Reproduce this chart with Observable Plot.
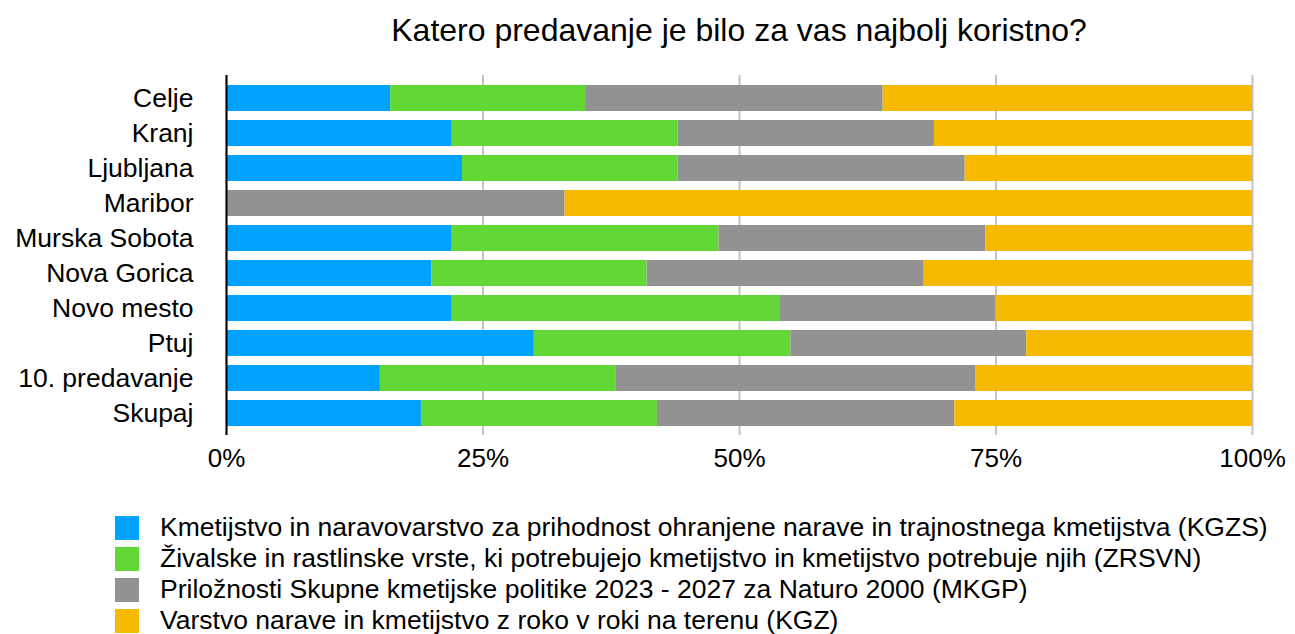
<!DOCTYPE html>
<html>
<head>
<meta charset="utf-8">
<script src="https://cdn.jsdelivr.net/npm/d3@7"></script>
<script src="https://cdn.jsdelivr.net/npm/@observablehq/plot@0.6"></script>
<style>
  body { margin: 0; background: #fff; font-family: "Liberation Sans", Arial, Helvetica, sans-serif; color: #000; }
  #title { height: 60px; line-height: 60px; font-size: 32px; text-align: center; padding-left: 226px; padding-right: 43px; }
  #legend { margin-top: 32px; margin-left: 115px; font-size: 26.5px; }
  .row { display: flex; align-items: center; height: 31px; white-space: nowrap; }
  .sw { width: 24px; height: 24px; margin-right: 21px; flex: none; }
</style>
</head>
<body>
<div id="title">Katero predavanje je bilo za vas najbolj koristno?</div>
<div id="chart"></div>
<div id="legend"></div>
<script>
const cities = ["Celje", "Kranj", "Ljubljana", "Maribor", "Murska Sobota", "Nova Gorica", "Novo mesto", "Ptuj", "10. predavanje", "Skupaj"];
const seriesNames = [
  "Kmetijstvo in naravovarstvo za prihodnost ohranjene narave in trajnostnega kmetijstva (KGZS)",
  "Živalske in rastlinske vrste, ki potrebujejo kmetijstvo in kmetijstvo potrebuje njih (ZRSVN)",
  "Priložnosti Skupne kmetijske politike 2023 - 2027 za Naturo 2000 (MKGP)",
  "Varstvo narave in kmetijstvo z roko v roki na terenu (KGZ)"
];
const colors = ["#00a2ff", "#61d836", "#929292", "#f8ba00"];
const kgzs  = [16, 22, 23, 0, 22, 20, 22, 30, 15, 19];
const zrsvn = [19, 22, 21, 0, 26, 21, 32, 25, 23, 23];
const mkgp  = [29, 25, 28, 33, 26, 27, 21, 23, 35, 29];
const kgz   = [36, 31, 28, 67, 26, 32, 25, 22, 27, 29];
const xTicks = [0, 25, 50, 75, 100];

const seriesValues = [kgzs, zrsvn, mkgp, kgz];
const data = [];
seriesValues.forEach((vals, s) => {
  cities.forEach((c, i) => data.push({city: c, series: seriesNames[s], value: vals[i]}));
});

const chart = Plot.plot({
  width: 1295,
  height: 420,
  marginLeft: 226,
  marginRight: 43,
  marginTop: 15,
  marginBottom: 45,
  style: {fontFamily: '"Liberation Sans", Arial, Helvetica, sans-serif', fontSize: "26px", color: "#000", background: "#fff"},
  x: {domain: [0, 100], ticks: xTicks, tickFormat: d => d + "%", label: null, tickSize: 0, tickPadding: 14},
  y: {domain: cities, label: null, padding: 0.26, tickSize: 0, tickPadding: 33},
  color: {domain: seriesNames, range: colors},
  marks: [
    Plot.ruleX(xTicks, {stroke: "#c4c4c4", strokeWidth: 2}),
    Plot.barX(data, Plot.stackX({x: "value", y: "city", fill: "series", order: null})),
    Plot.ruleX([0], {stroke: "#000", strokeWidth: 2}),
    Plot.axisX({tickSize: 0, tickPadding: 13, tickFormat: d => d + "%", ticks: xTicks, label: null, fontSize: 26}),
    Plot.axisY({tickSize: 0, tickPadding: 33, label: null, fontSize: 26.5})
  ]
});
document.getElementById("chart").appendChild(chart);

const legend = document.getElementById("legend");
seriesNames.forEach((n, i) => {
  const row = document.createElement("div");
  row.className = "row";
  const sw = document.createElement("div");
  sw.className = "sw";
  sw.style.background = colors[i];
  const t = document.createElement("span");
  t.textContent = n;
  row.appendChild(sw);
  row.appendChild(t);
  legend.appendChild(row);
});
</script>
</body>
</html>
